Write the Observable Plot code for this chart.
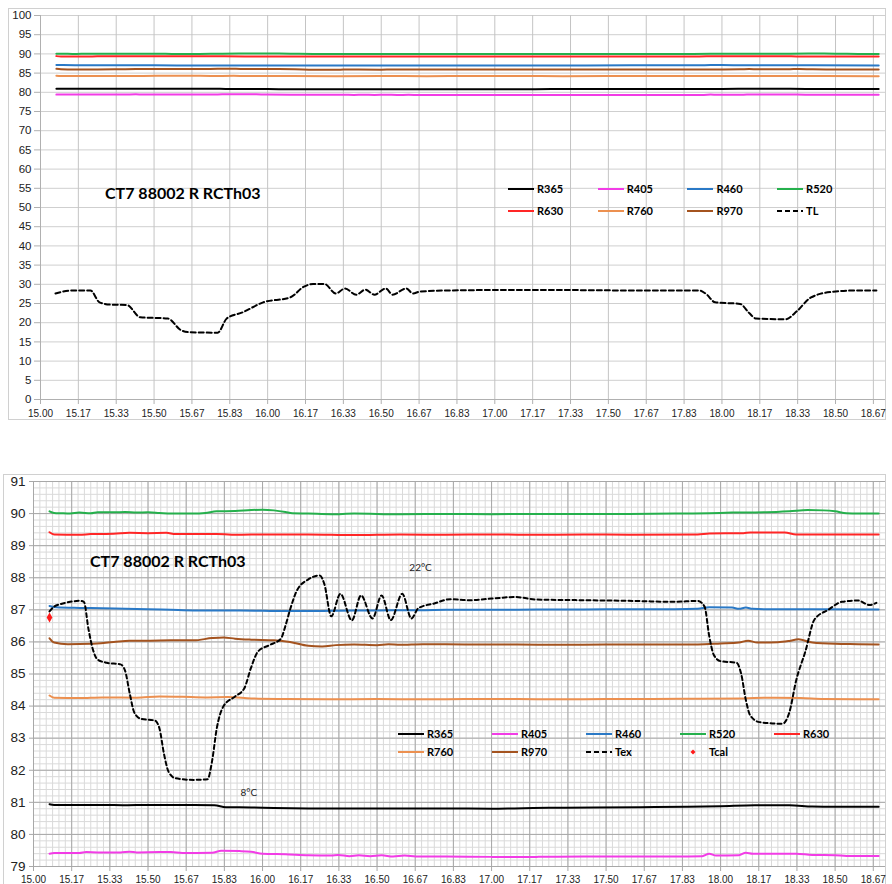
<!DOCTYPE html>
<html><head><meta charset="utf-8">
<script src="https://cdn.jsdelivr.net/npm/d3@7"></script>
<script src="https://cdn.jsdelivr.net/npm/@observablehq/plot@0.6"></script>
<style>
body{margin:0;background:#fff;}
#wrap{position:relative;width:892px;height:884px;overflow:hidden;background:#fff;}
.frame{position:absolute;border:1px solid #d0d0d0;box-sizing:border-box;}
.title{position:absolute;font-family:Lato;font-weight:bold;font-size:16px;color:#000;line-height:1;white-space:nowrap;}
.leg{position:absolute;font-family:Lato;font-weight:bold;font-size:11px;color:#000;display:flex;align-items:center;white-space:nowrap;line-height:1;}
.leg svg{margin-right:3px;}
svg{overflow:visible;}
</style></head>
<body><div id="wrap"></div>
<script>
// ---------- data ----------
const xTickLabels = ["15.00","15.17","15.33","15.50","15.67","15.83","16.00","16.17","16.33","16.50","16.67","16.83","17.00","17.17","17.33","17.50","17.67","17.83","18.00","18.17","18.33","18.50","18.67"];
const yTickLabelsTop = [0,5,10,15,20,25,30,35,40,45,50,55,60,65,70,75,80,85,90,95,100];
const yTickLabelsBottom = [79,80,81,82,83,84,85,86,87,88,89,90,91];

const seriesNames = ["R365","R405","R460","R520","R630","R760","R970"];
const seriesColors = ["#000000","#f23ce6","#2a79c6","#25b04c","#ff2626","#ec9050","#a4531f"];

const r365 = [[15.07,80.94],[15.09,80.92],[15.3,80.92],[15.4,80.91],[15.5,80.92],[15.6,80.92],[15.7,80.92],[15.79,80.91],[15.84,80.85],[15.95,80.84],[16.05,80.82],[16.2,80.81],[16.4,80.81],[16.6,80.81],[16.8,80.81],[17.0,80.8],[17.1,80.81],[17.25,80.83],[17.45,80.84],[17.65,80.85],[17.85,80.86],[18.0,80.88],[18.15,80.91],[18.3,80.91],[18.4,80.87],[18.5,80.86],[18.69,80.86]];
const r405 = [[15.07,79.4],[15.09,79.42],[15.2,79.42],[15.23,79.45],[15.28,79.44],[15.38,79.44],[15.42,79.46],[15.45,79.44],[15.55,79.45],[15.6,79.45],[15.65,79.42],[15.78,79.43],[15.82,79.49],[15.9,79.48],[15.95,79.46],[16.0,79.4],[16.1,79.38],[16.2,79.35],[16.3,79.34],[16.33,79.36],[16.38,79.32],[16.42,79.35],[16.47,79.32],[16.52,79.35],[16.57,79.31],[16.62,79.34],[16.67,79.31],[16.8,79.31],[17.0,79.3],[17.2,79.3],[17.4,79.31],[17.6,79.31],[17.8,79.31],[17.92,79.32],[17.95,79.4],[17.98,79.34],[18.08,79.35],[18.11,79.43],[18.14,79.4],[18.33,79.4],[18.4,79.36],[18.5,79.35],[18.55,79.33],[18.69,79.33]];
const r460 = [[15.07,87.12],[15.1,87.08],[15.2,87.06],[15.3,87.05],[15.4,87.03],[15.5,87.02],[15.6,87.0],[15.7,86.98],[15.8,86.98],[15.9,86.98],[16.0,86.97],[16.1,86.96],[16.2,86.96],[16.3,86.97],[16.4,86.98],[16.5,86.98],[16.6,86.99],[16.7,86.99],[16.8,87.0],[17.0,87.0],[17.2,87.01],[17.4,87.01],[17.6,87.02],[17.8,87.02],[17.9,87.03],[17.95,87.08],[18.05,87.07],[18.08,87.03],[18.11,87.07],[18.14,87.03],[18.2,87.02],[18.4,87.02],[18.69,87.01]];
const r520 = [[15.07,90.07],[15.09,90.02],[15.12,90.01],[15.16,90.0],[15.2,90.03],[15.25,90.01],[15.28,90.04],[15.35,90.04],[15.4,90.05],[15.45,90.03],[15.5,90.04],[15.55,90.02],[15.6,90.0],[15.7,90.0],[15.75,90.02],[15.8,90.07],[15.88,90.08],[15.95,90.11],[16.0,90.12],[16.05,90.1],[16.1,90.05],[16.13,90.01],[16.2,90.0],[16.3,89.98],[16.4,90.0],[16.6,89.98],[16.8,89.99],[17.0,89.98],[17.2,89.99],[17.4,89.99],[17.6,89.99],[17.8,90.0],[17.95,90.01],[18.05,90.03],[18.2,90.04],[18.3,90.07],[18.38,90.11],[18.45,90.1],[18.5,90.07],[18.55,90.01],[18.6,90.0],[18.69,90.0]];
const r630 = [[15.07,89.42],[15.09,89.35],[15.2,89.34],[15.25,89.36],[15.35,89.37],[15.42,89.4],[15.5,89.39],[15.58,89.4],[15.62,89.36],[15.8,89.36],[15.9,89.34],[16.0,89.35],[16.2,89.35],[16.4,89.33],[16.6,89.35],[16.8,89.34],[17.0,89.35],[17.2,89.34],[17.4,89.35],[17.6,89.34],[17.9,89.35],[17.95,89.38],[18.1,89.39],[18.13,89.41],[18.28,89.41],[18.33,89.35],[18.69,89.35]];
const r760 = [[15.07,84.33],[15.09,84.26],[15.2,84.25],[15.3,84.27],[15.45,84.26],[15.55,84.3],[15.65,84.29],[15.75,84.27],[15.85,84.28],[15.95,84.24],[16.1,84.22],[16.3,84.21],[16.5,84.22],[16.7,84.21],[16.9,84.22],[17.1,84.22],[17.3,84.21],[17.5,84.22],[17.7,84.22],[17.9,84.23],[18.1,84.24],[18.2,84.26],[18.35,84.25],[18.45,84.22],[18.69,84.21]];
const r970 = [[15.07,86.11],[15.09,85.98],[15.15,85.93],[15.25,85.94],[15.35,86.0],[15.42,86.04],[15.5,86.04],[15.6,86.05],[15.7,86.05],[15.78,86.12],[15.83,86.14],[15.88,86.1],[15.95,86.07],[16.05,86.05],[16.12,86.0],[16.2,85.88],[16.26,85.86],[16.32,85.9],[16.4,85.92],[16.5,85.9],[16.55,85.93],[16.6,85.91],[16.7,85.93],[16.9,85.92],[17.1,85.92],[17.3,85.91],[17.5,85.92],[17.7,85.92],[17.9,85.92],[18.0,85.95],[18.08,85.98],[18.12,86.04],[18.16,85.98],[18.25,85.99],[18.3,86.03],[18.34,86.08],[18.4,85.98],[18.5,85.94],[18.6,85.93],[18.69,85.92]];
const seriesData = [r365, r405, r460, r520, r630, r760, r970];

const tl = [[15.066,27.6],[15.1,28.1],[15.145,28.4],[15.22,28.4],[15.26,25.3],[15.31,24.7],[15.38,24.6],[15.44,21.4],[15.56,21.1],[15.62,18.0],[15.66,17.5],[15.78,17.4],[15.82,21.1],[15.89,22.7],[15.98,25.3],[16.1,26.6],[16.16,29.4],[16.2,30.1],[16.25,30.1],[16.3,27.6],[16.34,28.9],[16.39,27.3],[16.43,28.6],[16.47,27.3],[16.52,28.9],[16.55,27.3],[16.61,28.9],[16.64,27.6],[16.67,28.1],[16.8,28.4],[17.0,28.5],[17.3,28.5],[17.6,28.4],[17.9,28.4],[17.93,27.5],[17.97,25.3],[18.08,24.9],[18.12,22.5],[18.15,21.1],[18.28,20.9],[18.33,23.0],[18.39,26.5],[18.48,28.0],[18.6,28.4],[18.68,28.4]];
const tex = [[15.07,86.95],[15.09,87.1],[15.12,87.18],[15.16,87.25],[15.2,87.28],[15.22,87.25],[15.24,86.4],[15.26,85.75],[15.28,85.45],[15.32,85.35],[15.38,85.3],[15.4,85.1],[15.42,84.4],[15.44,83.8],[15.47,83.6],[15.53,83.55],[15.55,83.3],[15.57,82.5],[15.59,81.95],[15.62,81.75],[15.7,81.7],[15.76,81.72],[15.78,82.3],[15.8,83.3],[15.83,84.0],[15.88,84.3],[15.92,84.55],[15.95,85.2],[15.98,85.7],[16.03,85.9],[16.08,86.1],[16.1,86.5],[16.12,87.0],[16.15,87.6],[16.2,87.95],[16.25,88.07],[16.27,87.8],[16.3,86.8],[16.34,87.5],[16.39,86.67],[16.43,87.45],[16.48,86.73],[16.52,87.45],[16.56,86.68],[16.61,87.5],[16.65,86.73],[16.68,87.05],[16.75,87.2],[16.82,87.33],[16.9,87.3],[17.0,87.35],[17.1,87.4],[17.2,87.32],[17.4,87.3],[17.6,87.28],[17.8,87.25],[17.9,87.28],[17.93,87.1],[17.95,86.2],[17.97,85.6],[18.0,85.4],[18.07,85.35],[18.09,85.0],[18.11,84.2],[18.13,83.7],[18.17,83.5],[18.27,83.45],[18.3,83.8],[18.33,84.8],[18.37,85.7],[18.41,86.7],[18.47,87.0],[18.53,87.25],[18.6,87.29],[18.65,87.15],[18.68,87.22]];
const tcal = [[15.07,86.76]];

const chartTitle = "CT7 88002 R RCTh03";
const legendTop = ["R365","R405","R460","R520","R630","R760","R970","TL"];
const legendBottom = ["R365","R405","R460","R520","R630","R760","R970","Tex","Tcal"];
const notes = [{t:16.69, v:88.32, label:"22°C"},{t:15.94, v:81.31, label:"8°C"}];

// ---------- helpers ----------
const xTicks = xTickLabels.map((_, i) => 15 + i / 6);
const xFmt = d => xTickLabels[Math.round((d - 15) * 6)];
const toRows = arr => arr.map(([t, v]) => ({t, v}));
const wrapEl = document.getElementById("wrap");

function place(el, left, topPx) {
  el.style.position = "absolute"; el.style.left = left + "px"; el.style.top = topPx + "px";
  wrapEl.appendChild(el);
}
function frame(l, t, w, h) {
  const d = document.createElement("div"); d.className = "frame";
  d.style.left = l + "px"; d.style.top = t + "px"; d.style.width = w + "px"; d.style.height = h + "px";
  wrapEl.appendChild(d);
}
function swatch(name) {
  const ns = "http://www.w3.org/2000/svg";
  const s = document.createElementNS(ns, "svg");
  s.setAttribute("width", 26); s.setAttribute("height", 6);
  if (name === "Tcal") {
    const p = document.createElementNS(ns, "path");
    p.setAttribute("d", "M13,0.5 L15.5,3 L13,5.5 L10.5,3 Z"); p.setAttribute("fill", "#ff1a1a");
    s.appendChild(p);
  } else {
    const l = document.createElementNS(ns, "line");
    l.setAttribute("x1", 0); l.setAttribute("x2", 26); l.setAttribute("y1", 3); l.setAttribute("y2", 3);
    const i = seriesNames.indexOf(name);
    l.setAttribute("stroke", i >= 0 ? seriesColors[i] : "#000");
    l.setAttribute("stroke-width", 2);
    if (i < 0) l.setAttribute("stroke-dasharray", "5,3");
    s.appendChild(l);
  }
  return s;
}
function legend(names, perRow, x0, dx, y0, dy) {
  names.forEach((n, i) => {
    const d = document.createElement("div"); d.className = "leg";
    d.appendChild(swatch(n));
    d.appendChild(document.createTextNode(n));
    place(d, x0 + (i % perRow) * dx, y0 + Math.floor(i / perRow) * dy - 6);
  });
}
function addTitle(text, left, topPx) {
  const d = document.createElement("div"); d.className = "title"; d.textContent = text;
  place(d, left, topPx);
}
function seriesMarks(sw) {
  return seriesData.map((arr, i) => Plot.line(toRows(arr), {x: "t", y: "v", stroke: seriesColors[i], strokeWidth: sw, curve: "monotone-x"}));
}

// ---------- top chart ----------
frame(8, 8, 878, 412);
const topChart = Plot.plot({
  width: 892, height: 430,
  marginLeft: 40, marginRight: 7, marginTop: 15, marginBottom: 31,
  style: {fontFamily: "'Liberation Sans', Arial, sans-serif", background: "transparent", overflow: "visible"},
  x: {domain: [15, 18.72], axis: null, label: null},
  y: {domain: [0, 100], axis: null, label: null},
  marks: [
    Plot.gridY(yTickLabelsTop, {stroke: "#cfcfcf", strokeOpacity: 1}),
    Plot.gridX(xTicks, {stroke: "#c4c4c4", strokeOpacity: 1}),
    Plot.axisY(yTickLabelsTop, {anchor: "left", label: null, tickSize: 6, tickPadding: 3, stroke: "#b0b0b0", color: "#222", fontSize: 11.5}),
    Plot.axisX(xTicks, {anchor: "bottom", label: null, tickSize: 5, tickPadding: 5, stroke: "#b0b0b0", color: "#222", fontSize: 10, tickFormat: xFmt}),
    Plot.ruleX([15], {stroke: "#b0b0b0"}),
    Plot.ruleY([0], {stroke: "#b0b0b0"}),
    ...seriesMarks(2),
    Plot.line(toRows(tl), {x: "t", y: "v", stroke: "#000", strokeWidth: 2, strokeDasharray: "5,3", curve: "monotone-x"})
  ]
});
place(topChart, 0, 0);
addTitle(chartTitle, 105, 185);
legend(legendTop, 4, 508, 89.7, 189, 22);

// ---------- bottom chart ----------
frame(3, 474, 883, 420);
const minorX = d3.range(0, 22 * 6 + 6).map(i => 15 + i / 36).filter(d => d <= 18.72);
const minorY = d3.range(0, 61).map(i => 79 + i * 0.2);
const bottomChart = Plot.plot({
  width: 892, height: 414,
  marginLeft: 33, marginRight: 7, marginTop: 11, marginBottom: 18,
  style: {fontFamily: "'Liberation Sans', Arial, sans-serif", background: "transparent", overflow: "visible"},
  x: {domain: [15, 18.72], axis: null, label: null},
  y: {domain: [79, 91], axis: null, label: null},
  marks: [
    Plot.gridY(minorY, {stroke: "#dadada", strokeOpacity: 1}),
    Plot.gridX(minorX, {stroke: "#dadada", strokeOpacity: 1}),
    Plot.gridY(yTickLabelsBottom, {stroke: "#a8a8a8", strokeOpacity: 1}),
    Plot.gridX(xTicks, {stroke: "#a8a8a8", strokeOpacity: 1}),
    Plot.axisY(yTickLabelsBottom, {anchor: "left", label: null, tickSize: 4, tickPadding: 4, stroke: "#a8a8a8", color: "#222", fontSize: 13.5}),
    Plot.axisX(xTicks, {anchor: "bottom", label: null, tickSize: 5, tickPadding: 4, stroke: "#a8a8a8", color: "#222", fontSize: 10, tickFormat: xFmt}),
    Plot.ruleX([15], {stroke: "#a8a8a8"}),
    Plot.ruleY([79], {stroke: "#a8a8a8"}),
    ...seriesMarks(2),
    Plot.line(toRows(tex), {x: "t", y: "v", stroke: "#000", strokeWidth: 2, strokeDasharray: "4,3", curve: "monotone-x"}),
    Plot.dot(toRows(tcal), {x: "t", y: "v", symbol: "diamond", r: 3, fill: "#ff1a1a", stroke: "none"}),
    Plot.text(notes, {x: "t", y: "v", text: "label", fontSize: 10, fill: "#222", fontFamily: "Lato"})
  ]
});
place(bottomChart, 0, 470);
addTitle(chartTitle, 90, 553);
legend(legendBottom, 5, 398, 94, 734, 18);
</script>
</body></html>
